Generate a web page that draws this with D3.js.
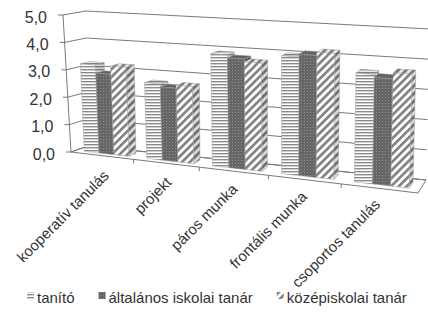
<!DOCTYPE html>
<html>
<head>
<meta charset="utf-8">
<script src="https://cdn.jsdelivr.net/npm/d3@7"></script>
<style>
body{margin:0;background:#fff;}
text{font-family:"Liberation Sans",Arial,sans-serif;fill:#333;}
</style>
</head>
<body>
<div id="chart"></div>
<script>
// data
var categories = ["kooperatív tanulás", "projekt", "páros munka", "frontális munka", "csoportos tanulás"];
var seriesNames = ["tanító", "általános iskolai tanár", "középiskolai tanár"];
var tanito = [3.2, 2.7, 3.9, 4.0, 3.6];
var altalanos = [2.9, 2.6, 3.8, 4.1, 3.5];
var kozepiskolai = [3.2, 2.7, 3.7, 4.2, 3.7];
var yTicks = [0, 1, 2, 3, 4, 5];
var yTickLabels = ["0,0", "1,0", "2,0", "3,0", "4,0", "5,0"];

var width = 428, height = 312;
var seriesValues = [tanito, altalanos, kozepiskolai];

var svg = d3.select("#chart").append("svg")
    .attr("width", width)
    .attr("height", height);

// corners of the 3d plot box on screen: [u][v][w]
var c000 = [71,152], c010 = [63,15], c001 = [88,146], c011 = [86,11],
    c100 = [418,193], c110 = [422,37], c101 = [426,180], c111 = [430,29];

function lerp(a,b,t){return [a[0]+(b[0]-a[0])*t, a[1]+(b[1]-a[1])*t];}
function persp(u){var k = -0.12; return (1+k)*u/(1+k*u);}
function proj(u,v,w){
    var a = lerp(lerp(c000,c100,u), lerp(c010,c110,u), v);
    var b = lerp(lerp(c001,c101,u), lerp(c011,c111,u), v);
    return lerp(a,b,w);
}
function poly(pts){return 'M' + pts.map(function(p){return p[0].toFixed(2)+','+p[1].toFixed(2);}).join('L') + 'Z';}

var x = d3.scaleBand().domain(categories).range([0,1]).paddingInner(0.28).paddingOuter(0.14);
var s = d3.scaleBand().domain(seriesNames).range([0, x.bandwidth()]);
var y = d3.scaleLinear().domain([0,5]).range([0,1]);

// patterns
var defs = svg.append('defs');
var p0 = defs.append('pattern').attr('id','pat0').attr('patternUnits','userSpaceOnUse')
    .attr('width',6).attr('height',3);
p0.append('rect').attr('width',6).attr('height',3).attr('fill','#fff');
p0.append('rect').attr('width',6).attr('height',1.4).attr('fill','#8a8a8a');

var p1 = defs.append('pattern').attr('id','pat1').attr('patternUnits','userSpaceOnUse')
    .attr('width',3).attr('height',3);
p1.append('rect').attr('width',3).attr('height',3).attr('fill','#666');
p1.append('rect').attr('x',1).attr('y',1).attr('width',1).attr('height',1).attr('fill','#8e8e8e');

var p2 = defs.append('pattern').attr('id','pat2').attr('patternUnits','userSpaceOnUse')
    .attr('width',5.5).attr('height',6).attr('patternTransform','rotate(45)');
p2.append('rect').attr('width',5.5).attr('height',6).attr('fill','#fff');
p2.append('rect').attr('width',2.6).attr('height',6).attr('fill','#7f7f7f');

var gridColor = '#7a7a7a';
var grid = svg.append('g');

// back wall and side wall gridlines
yTicks.forEach(function(t){
    var v = y(t);
    grid.append('path').attr('d','M'+proj(0,v,0)+'L'+proj(0,v,1)+'L'+proj(1,v,1))
        .attr('fill','none').attr('stroke',gridColor).attr('stroke-width',1);
    var p = proj(0,v,0);
    grid.append('line').attr('x1',p[0]-5).attr('x2',p[0]).attr('y1',p[1]).attr('y2',p[1])
        .attr('stroke',gridColor);
});
// value axis
grid.append('path').attr('d','M'+proj(0,0,0)+'L'+proj(0,1,0))
    .attr('stroke',gridColor).attr('fill','none');
// floor outline
grid.append('path').attr('d',poly([proj(0,0,0),proj(1,0,0),proj(1,0,1),proj(0,0,1)]))
    .attr('fill','none').attr('stroke',gridColor);
// category ticks
d3.range(1,categories.length).forEach(function(i){
    var p = proj(persp(i/categories.length),0,0);
    grid.append('line').attr('x1',p[0]).attr('x2',p[0]).attr('y1',p[1]).attr('y2',p[1]+4)
        .attr('stroke',gridColor);
});

// y labels
svg.append('g').selectAll('text').data(yTicks).enter().append('text')
    .attr('x',function(d){return proj(0,y(d),0)[0]-16;})
    .attr('y',function(d){return proj(0,y(d),0)[1]+2;})
    .attr('text-anchor','end').attr('dominant-baseline','central')
    .attr('font-size',16)
    .text(function(d,i){return yTickLabels[i];});

// bars
var w0 = 0.28, w1 = 0.72;
var bars = svg.append('g');
categories.forEach(function(cat,ci){
    seriesNames.forEach(function(ser,si){
        var ua = x(cat)+s(ser), ub = ua + s.bandwidth();
        var u0 = persp(ua), u1 = persp(ub);
        var v1 = y(seriesValues[si][ci]);
        var fill = 'url(#pat'+si+')';
        var g = bars.append('g');
        var side = [proj(u1,0,w0),proj(u1,0,w1),proj(u1,v1,w1),proj(u1,v1,w0)];
        var top = [proj(u0,v1,w0),proj(u1,v1,w0),proj(u1,v1,w1),proj(u0,v1,w1)];
        var front = [proj(u0,0,w0),proj(u1,0,w0),proj(u1,v1,w0),proj(u0,v1,w0)];
        g.append('path').attr('d',poly(side)).attr('fill',fill);
        g.append('path').attr('d',poly(side)).attr('fill','rgba(0,0,0,0.15)').attr('stroke','#9a9a9a').attr('stroke-width',0.5);
        g.append('path').attr('d',poly(top)).attr('fill',fill);
        g.append('path').attr('d',poly(top)).attr('fill','rgba(0,0,0,0.08)').attr('stroke','#9a9a9a').attr('stroke-width',0.5);
        g.append('path').attr('d',poly(front)).attr('fill',fill).attr('stroke','#a0a0a0').attr('stroke-width',0.5);
    });
});

// category labels
svg.append('g').selectAll('text').data(categories).enter().append('text')
    .attr('transform',function(d,i){
        var p = proj(persp(x(d)+x.bandwidth()/2),0,0);
        var dx = 8 - i*1.5, dy = 21 - i;
        return 'translate('+(p[0]+dx)+','+(p[1]+dy)+') rotate(-45)';
    })
    .attr('text-anchor','end')
    .attr('font-size',15)
    .text(function(d){return d;});

// legend
var legend = svg.append('g').attr('transform','translate(0,297)');
var lx = 27;
seriesNames.forEach(function(name,i){
    legend.append('rect').attr('x',lx).attr('y',-5).attr('width',7).attr('height',7)
        .attr('fill','url(#pat'+i+')');
    var t = legend.append('text').attr('x',lx+10).attr('y',0)
        .attr('dominant-baseline','central').attr('font-size',15).text(name);
    lx = lx + 10 + t.node().getComputedTextLength() + 24;
});
</script>
</body>
</html>
